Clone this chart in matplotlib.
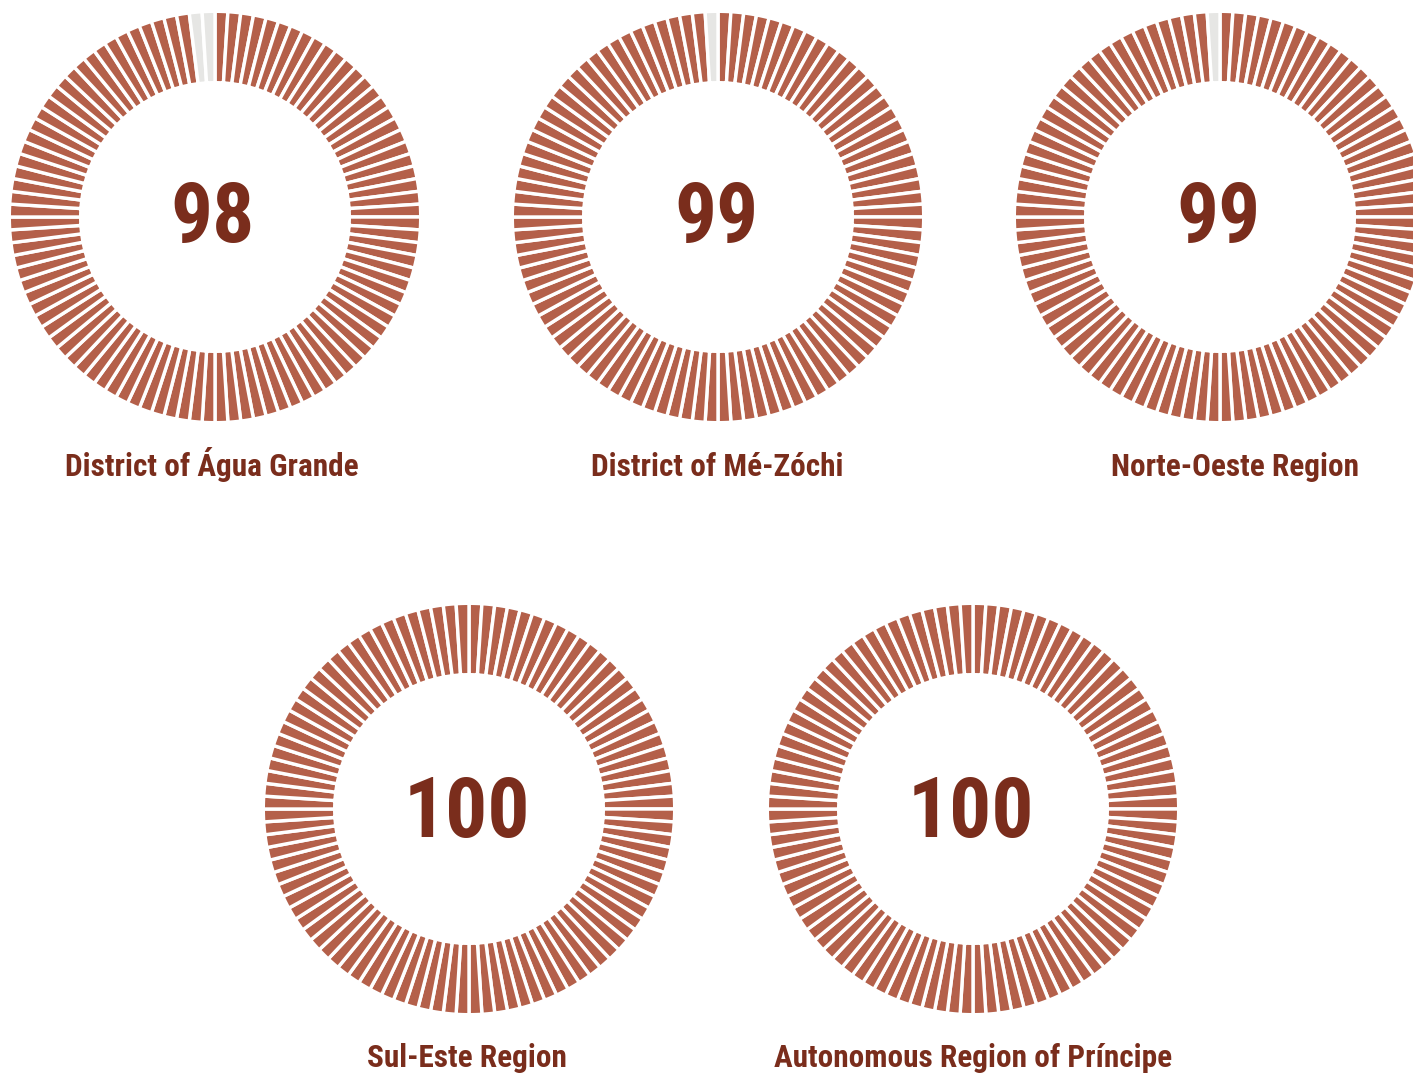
import matplotlib
matplotlib.use("Agg")
import matplotlib.pyplot as plt

regions = ["District of Água Grande", "District of Mé-Zóchi", "Norte-Oeste Region",
           "Sul-Este Region", "Autonomous Region of Príncipe"]
values = [98, 99, 99, 100, 100]
total_units = 100

# layout (pixel positions, y from top)
centers = [(215, 217), (718, 217), (1220, 217), (469, 809), (973, 809)]
label_x = [212, 717, 1235, 467, 973]
label_base = [476, 476, 476, 1067, 1067]
num_base = [242, 242, 242, 837, 837]

W, H = 1413, 1075
FILL = "#b4604a"
EMPTY = "#e6e6e4"
TEXT = "#7a2d1c"
FONT = ["Roboto Condensed", "Archivo Narrow", "Open Sans Condensed",
        "IBM Plex Sans Condensed", "DejaVu Sans"]

fig = plt.figure(figsize=(W / 100, H / 100), dpi=100)
ax = fig.add_axes([0, 0, 1, 1])

R_OUT, R_IN = 204, 136
lw_px = 3.4
lw_pt = lw_px * 72 / 100

for (cx, cy), v, name, lx, lb, nb in zip(centers, values, regions, label_x, label_base, num_base):
    sizes = [1] * total_units
    colors = [FILL if i < v else EMPTY for i in range(total_units)]
    r = R_OUT + lw_px / 2
    ax.pie(sizes, colors=colors, startangle=90, counterclock=False,
           center=(cx, H - cy), radius=r,
           wedgeprops=dict(width=(R_OUT - R_IN) + lw_px, edgecolor="white", linewidth=lw_pt))
    ax.text(cx - 2, H - nb, str(v), ha="center", va="baseline", color=TEXT,
            fontsize=60, fontweight="bold", family=FONT)
    ax.text(lx, H - lb, name, ha="center", va="baseline", color=TEXT,
            fontsize=22.5, fontweight="bold", family=FONT)

ax.set_xlim(0, W)
ax.set_ylim(0, H)
ax.set_aspect("auto")
ax.axis("off")
fig.savefig("out.png", dpi=100, facecolor="white")
